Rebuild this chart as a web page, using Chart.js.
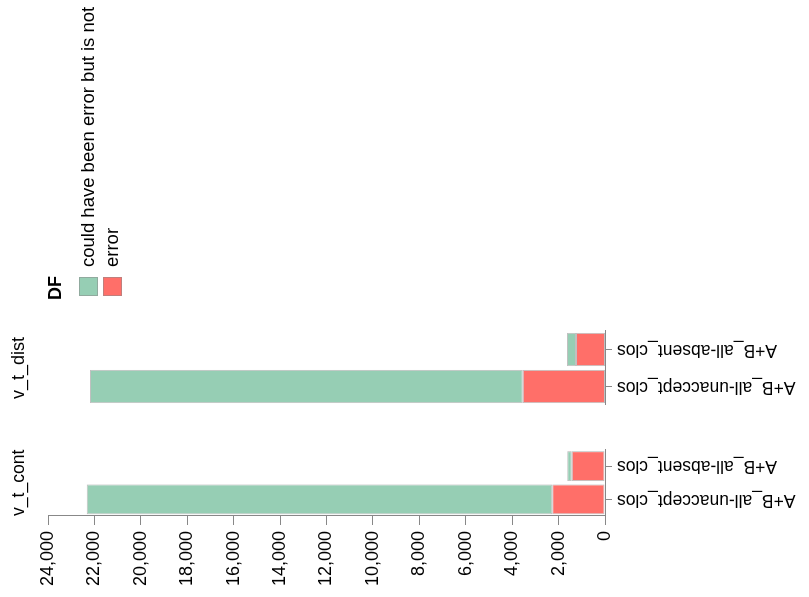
<!DOCTYPE html>
<html>
<head>
<meta charset="utf-8">
<script src="https://cdn.jsdelivr.net/npm/chart.js@4.4.1/dist/chart.umd.min.js"></script>
<style>
  html, body { margin: 0; padding: 0; background: #fff; overflow: hidden; }
  /* The faceted chart is laid out upright, then turned a quarter turn. */
  #page {
    position: absolute; left: 0; top: 0;
    width: 597px; height: 809px;
    transform-origin: 0 0;
    transform: translateY(597px) rotate(-90deg);
    background: #fff;
  }
  .facet { position: absolute; top: 0; height: 809px; }
  #f1 { left: 0; width: 160px; }
  #f2 { left: 160px; width: 437px; }
</style>
</head>
<body>
<div id="page">
  <div class="facet" id="f1"><canvas id="c1" width="160" height="809"></canvas></div>
  <div class="facet" id="f2"><canvas id="c2" width="437" height="809"></canvas></div>
</div>
<script>
// Categories within each facet
const categories = ['A+B_all-unaccept_clos', 'A+B_all-absent_clos'];
// Facet names
const facets = ['v_t_cont', 'v_t_dist'];
// Series (DF) names, in legend order
const seriesNames = ['could have been error but is not', 'error'];
const legendTitle = 'DF';

// Counts per facet, per category
const errorCont = [2270, 1435];
const notErrorCont = [20060, 190];
const errorDist = [3545, 1250];
const notErrorDist = [18645, 387];

// Value axis
const axisMax = 24000;
const axisStep = 2000;

const GREEN = '#96ceb4';
const RED = '#ff6f69';
const EDGE = 'rgba(140,140,140,0.55)';
const AXIS = '#888';
const FONT = '"Liberation Sans", Arial, Helvetica, sans-serif';
const FS = 18;
const LEGEND_FS = 18.5;

// Draws the DF legend to the right of the last facet
const dfLegend = {
  id: 'dfLegend',
  afterDraw(chart) {
    const { ctx, chartArea } = chart;
    const x0 = chartArea.right + 31;
    ctx.save();
    ctx.textAlign = 'left';
    ctx.textBaseline = 'middle';
    ctx.fillStyle = '#000';
    ctx.font = 'bold ' + FS + 'px ' + FONT;
    ctx.fillText(legendTitle, x0, chartArea.top + 8.5);
    ctx.font = LEGEND_FS + 'px ' + FONT;
    seriesNames.forEach((name, i) => {
      const ds = chart.data.datasets.find(d => d.label === name);
      const y = chartArea.top + 31 + i * 24;
      ctx.fillStyle = ds.backgroundColor;
      ctx.fillRect(x0 + 4, y, 19, 19);
      ctx.strokeStyle = EDGE;
      ctx.lineWidth = 1;
      ctx.strokeRect(x0 + 4.5, y + 0.5, 18, 18);
      ctx.fillStyle = '#000';
      ctx.fillText(name, x0 + 33, y + 10);
    });
    ctx.restore();
  }
};

function facetChart(canvas, title, errVals, okVals, showValueAxis, padding, plugins) {
  const yScale = {
    stacked: true,
    min: 0,
    max: axisMax,
    display: showValueAxis,
    grid: { display: true, drawOnChartArea: false, tickLength: 9, color: AXIS },
    border: { display: true, color: AXIS, width: 1 },
    ticks: {
      stepSize: axisStep, padding: 6,
      color: '#000', font: { family: FONT, size: FS }
    }
  };
  if (showValueAxis) {
    yScale.afterFit = function (scale) { scale.width = 81; };
  }
  return new Chart(canvas, {
    type: 'bar',
    data: {
      labels: categories,
      datasets: [
        { label: seriesNames[1], data: errVals, backgroundColor: RED },
        { label: seriesNames[0], data: okVals, backgroundColor: GREEN }
      ]
    },
    plugins: plugins || [],
    options: {
      responsive: false,
      animation: false,
      events: [],
      layout: { padding: padding },
      datasets: {
        bar: {
          categoryPercentage: 0.9,
          barPercentage: 1,
          borderWidth: 1,
          borderColor: EDGE,
          borderSkipped: false
        }
      },
      plugins: {
        legend: { display: false },
        tooltip: { enabled: false },
        title: {
          display: true,
          text: title,
          fullSize: false,
          color: '#000',
          font: { family: FONT, size: FS, weight: 'normal' },
          padding: { top: 8.5, bottom: 17.9 }
        }
      },
      scales: {
        x: {
          stacked: true,
          grid: { display: true, drawOnChartArea: false, offset: false, tickLength: 7, color: AXIS },
          border: { display: true, color: AXIS, width: 1 },
          ticks: {
            minRotation: 90, maxRotation: 90, autoSkip: false, padding: 5,
            color: '#000', font: { family: FONT, size: 17.5 }
          },
          afterFit(scale) { scale.height = 204; }
        },
        y: yScale
      }
    }
  });
}

facetChart(document.getElementById('c1'), facets[0], errorCont, notErrorCont, true,
  { left: 0, right: 5, top: 0, bottom: 0 });
facetChart(document.getElementById('c2'), facets[1], errorDist, notErrorDist, false,
  { left: 32, right: 331, top: 0, bottom: 0 }, [dfLegend]);
</script>
</body>
</html>
